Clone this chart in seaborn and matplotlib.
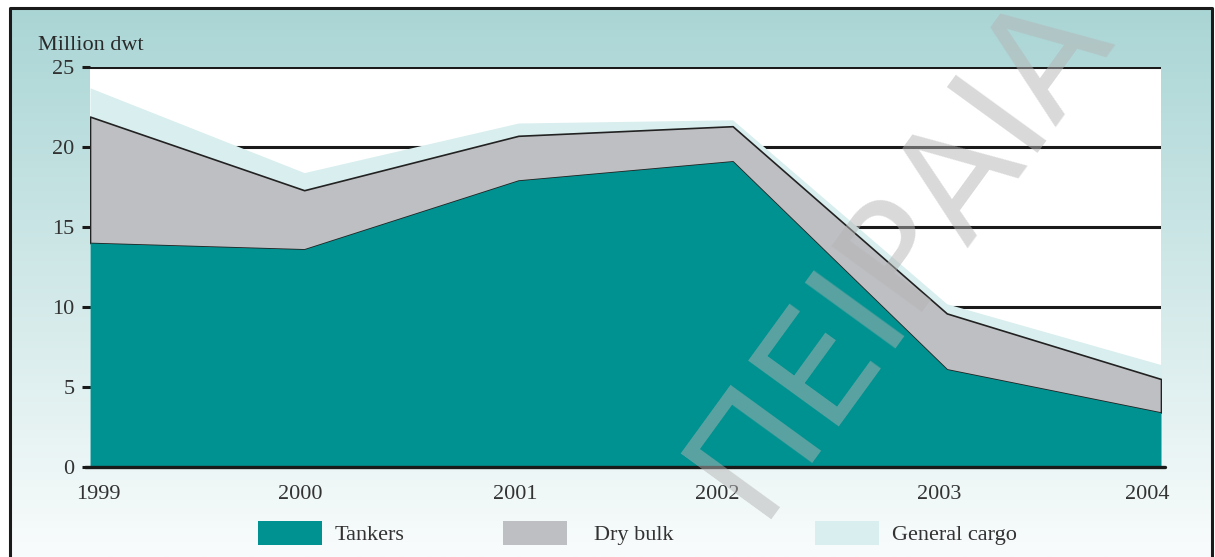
import matplotlib
matplotlib.use("Agg")
import matplotlib.pyplot as plt
import matplotlib.transforms as mtransforms
from matplotlib.patches import Patch
from matplotlib.lines import Line2D
import seaborn as sns
import pandas as pd
import numpy as np

years = [1999, 2000, 2001, 2002, 2003, 2004]
tankers = [14.0, 13.6, 17.9, 19.1, 6.1, 3.4]
dry_bulk = [7.9, 3.7, 2.8, 2.2, 3.5, 2.1]
general_cargo = [1.8, 1.1, 0.8, 0.4, 0.6, 0.9]
series_names = ["Tankers", "Dry bulk", "General cargo"]
y_ticks = [0, 5, 10, 15, 20, 25]

colors = {"Tankers": "#009290", "Dry bulk": "#bebfc3", "General cargo": "#d9eeee"}

sns.set_theme(style="white")
plt.rcParams["font.family"] = ["Liberation Serif", "DejaVu Serif"]

df = pd.DataFrame({"year": years, "Tankers": tankers,
                   "Dry bulk": dry_bulk, "General cargo": general_cargo})
cum = df[series_names].cumsum(axis=1)

W, H = 1215, 557
fig = plt.figure(figsize=(W / 100, H / 100), dpi=100, facecolor="white")

# background gradient with frame
bg = fig.add_axes([0, 0, 1, 1], zorder=-1)
bg.set_xlim(0, W)
bg.set_ylim(H, 0)
bg.axis("off")
top = np.array([170, 213, 213]) / 255
bottom = np.array([249, 252, 252]) / 255
t = np.linspace(0, 1, 256)[:, None]
grad = (top[None, :] * (1 - t) + bottom[None, :] * t)[:, None, :]
bg.imshow(grad, extent=[10, 1212, H, 8], aspect="auto", origin="upper")
bg.add_line(Line2D([10, 10, 1212, 1212], [H, 8, 8, H], color="#1a1a1a", lw=2.2))

ax = fig.add_axes([90 / W, 90 / H, 1071 / W, 400 / H])
ax.set_facecolor("white")

ax.fill_between(df["year"], 0, cum["Tankers"], color=colors["Tankers"],
                lw=0, zorder=3)
ax.fill_between(df["year"], cum["Tankers"], cum["Dry bulk"],
                facecolor=colors["Dry bulk"], edgecolor="#222222", lw=1.2, zorder=2)
ax.fill_between(df["year"], cum["Dry bulk"], cum["General cargo"],
                color=colors["General cargo"], lw=0, zorder=1)

ax.set_xlim(1999, 2004)
ax.set_ylim(0, 25)
ax.set_yticks(y_ticks)
ax.set_xticks(years)
ax.yaxis.grid(True, color="#1a1a1a", lw=2.2)
ax.xaxis.grid(False)
ax.set_axisbelow(True)
for s in ax.spines.values():
    s.set_visible(False)
ax.axhline(0, xmin=-0.005, xmax=1.004, color="#1a1a1a", lw=2.4,
           clip_on=False, zorder=5)
ax.tick_params(axis="y", left=True, length=6, width=2.2, color="#1a1a1a",
               pad=5, labelsize=16, labelcolor="#333333")
ax.tick_params(axis="x", bottom=False, length=0, pad=13,
               labelsize=16, labelcolor="#333333")
ax.set_xlabel("")
ax.set_ylabel("")

# the year labels sit a little off their ticks in the original
label_shift_px = [8, -4, -3, -15, -8, -14]
for lab, dx in zip(ax.get_xticklabels(), label_shift_px):
    lab.set_transform(lab.get_transform() +
                      mtransforms.ScaledTranslation(dx / 100, 0, fig.dpi_scale_trans))

fig.text(38 / W, 1 - 45 / H, "Million dwt", fontsize=16, color="#2a2a2a",
         ha="left", va="center")

# legend entries, one per series, placed like the original
legend_x = [258, 503, 815]
text_gap = [0.55, 1.2, 0.55]
for name, lx, gap in zip(series_names, legend_x, text_gap):
    fig.legend([Patch(facecolor=colors[name], edgecolor="none")], [name],
               loc="center left", bbox_to_anchor=(lx / W, 1 - 533 / H),
               frameon=False, borderpad=0, borderaxespad=0,
               handlelength=2.9, handleheight=1.35, handletextpad=gap,
               fontsize=16, labelcolor="#333333")

# watermark
fig.text(757 / W, 1 - 519 / H, "ΠΕΙΡΑΙΑ", family="DejaVu Sans",
         fontsize=110, color="#b4b4b4", alpha=0.5, rotation=54,
         rotation_mode="anchor", ha="left", va="baseline", zorder=10)

fig.savefig("out.png", dpi=100, facecolor="white")
